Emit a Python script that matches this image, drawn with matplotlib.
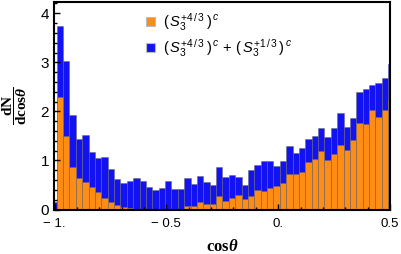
import numpy as np
import matplotlib
matplotlib.use('Agg')
import matplotlib.pyplot as plt
from matplotlib.patches import Patch
from matplotlib.ticker import MultipleLocator

plt.rcParams['font.family'] = 'Liberation Sans'
plt.rcParams['mathtext.fontset'] = 'custom'
plt.rcParams['mathtext.rm'] = 'Liberation Sans'
plt.rcParams['mathtext.it'] = 'Liberation Sans:italic'
plt.rcParams['mathtext.bf'] = 'Liberation Serif:bold'
plt.rcParams['mathtext.bfit'] = 'Liberation Serif:italic:bold'

# histogram bins (width ~0.0285, first full bin starts at -0.99)
bin_width = 0.0285
first_edge = -0.99 - bin_width

# total height: (S3^{+4/3})^c + (S3^{+1/3})^c
total = [0.15, 3.74, 3.02, 1.93, 1.44, 1.51, 1.18, 1.04, 1.08, 0.82,
         0.62, 0.55, 0.59, 0.64, 0.59, 0.46, 0.40, 0.44, 0.58, 0.42,
         0.42, 0.65, 0.51, 0.68, 0.57, 0.50, 0.87, 0.67, 0.70, 0.66,
         0.49, 0.81, 0.91, 0.99, 0.99, 0.89, 0.99, 1.30, 1.16, 1.26,
         1.44, 1.50, 1.66, 1.48, 1.66, 1.97, 1.69, 1.87, 2.39, 2.46,
         2.54, 2.58, 2.68, 2.97]
# (S3^{+4/3})^c alone
orange = [0.0, 2.30, 1.50, 0.87, 0.64, 0.56, 0.45, 0.36, 0.23, 0.16,
          0.09, 0.05, 0.04, 0.0, 0.0, 0.0, 0.0, 0.0, 0.0, 0.0,
          0.0, 0.07, 0.08, 0.16, 0.11, 0.11, 0.28, 0.18, 0.23, 0.29,
          0.21, 0.28, 0.40, 0.38, 0.43, 0.47, 0.55, 0.72, 0.72, 0.76,
          0.96, 1.03, 1.20, 1.01, 1.14, 1.32, 1.21, 1.42, 1.77, 1.74,
          2.02, 1.88, 2.03, 2.26]

xticks = [-1.0, -0.5, 0.0, 0.5]
xticklabels = ['\u2212 1.', '\u2212 0.5', '0.', '0.5']
yticks = [0, 1, 2, 3, 4]

c_orange = '#ff8c14'
c_blue = '#1212f2'
edge = (0.4, 0.4, 0.4, 0.5)

left_edges = first_edge + bin_width * np.arange(len(total))

fig = plt.figure(figsize=(4.02, 2.54), dpi=100)
ax = fig.add_axes([54.5/402, 1 - 209.5/254, (390 - 54.5)/402, (209.5 - 2)/254])

ax.bar(left_edges, total, width=bin_width, align='edge', color=c_blue,
       edgecolor=edge, linewidth=0.7)
ax.bar(left_edges, orange, width=bin_width, align='edge', color=c_orange,
       edgecolor=edge, linewidth=0.7)

ax.set_xlim(-1.0, 0.5)
ax.set_ylim(0, 4.23)
ax.set_xticks(xticks)
ax.set_xticklabels(xticklabels, fontsize=9.5)
ax.set_yticks(yticks)
ax.set_yticklabels([str(t) for t in yticks], fontsize=11)
ax.xaxis.set_minor_locator(MultipleLocator(0.1))
ax.yaxis.set_minor_locator(MultipleLocator(0.2))
ax.tick_params(which='both', direction='in', top=False, right=False, width=1.0, color='black')
ax.tick_params(axis='x', which='major', length=4, pad=6)
ax.tick_params(axis='y', which='major', length=4, pad=4)
ax.tick_params(which='minor', length=2)
for sp in ax.spines.values():
    sp.set_linewidth(1.5)

ax.set_xlabel(r'$\mathbf{cos}\boldsymbol{\theta}$', fontsize=12, labelpad=6)
ax.set_ylabel(r'$\dfrac{\mathbf{dN}}{\mathbf{dcos}\boldsymbol{\theta}}$', fontsize=11, labelpad=8)

handles = [Patch(facecolor=c_orange, edgecolor='#bbbbbb', linewidth=0.8),
           Patch(facecolor=c_blue, edgecolor='#bbbbbb', linewidth=0.8)]
labels = [r'$(\,S_3^{+4\,/\,3}\,)^{\,c}$',
          r'$(\,S_3^{+4\,/\,3}\,)^{\,c}\,+\,(\,S_3^{+1\,/\,3}\,)^{\,c}$']
fig.legend(handles, labels, loc='upper left', bbox_to_anchor=(146/402, 1 - 11/254),
           frameon=False, fontsize=10.5, handlelength=0.6, handleheight=0.6,
           handletextpad=0.6, labelspacing=0.3, borderpad=0, borderaxespad=0)

fig.savefig('out.png', dpi=100)
